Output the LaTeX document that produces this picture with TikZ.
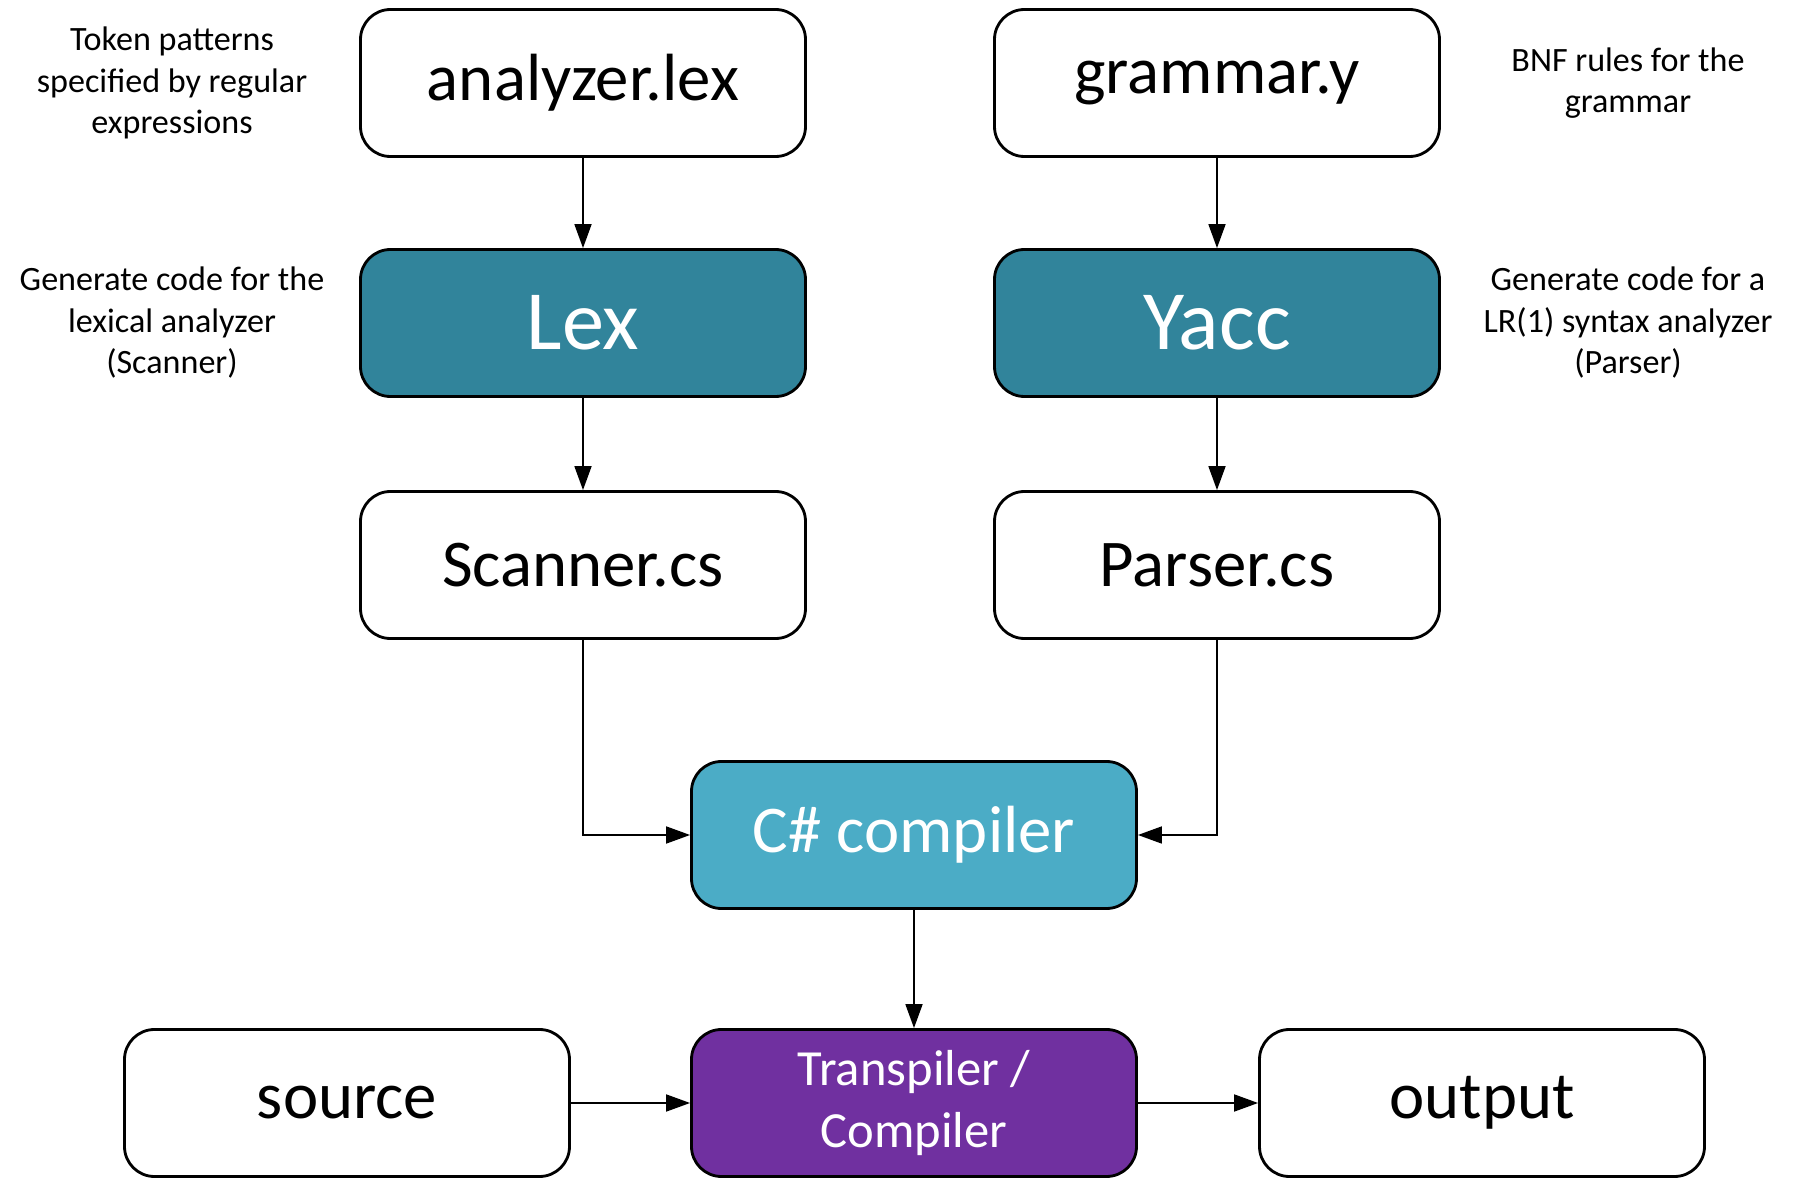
\documentclass[tikz,border=0pt]{standalone}
\usepackage{fontspec}
\setmainfont{Carlito}
\usepackage{xcolor}
\usepackage{tikz}
\usetikzlibrary{arrows.meta, positioning}

\begin{document}
\begin{tikzpicture}[>={Triangle[length=2.4mm, width=1.7mm]}, x=1cm, y=1cm,
    box/.style={draw, line width=0.8pt, rounded corners=3mm, minimum width=4.45cm, minimum height=1.47cm, align=center, font=\fontsize{19}{23}\selectfont},
    note/.style={align=center, font=\fontsize{9.7}{11.8}\selectfont},
    link/.style={->, line width=0.5pt}]
      \colorlet{toolbg}{rgb,255:red,49;green,132;blue,155}
      \colorlet{cscbg}{rgb,255:red,75;green,172;blue,198}
      \colorlet{transbg}{rgb,255:red,112;green,48;blue,160}
      \useasboundingbox (0, 0) rectangle (18, 12);
      % input files
      \node[box] (lexfile) at (5.83, 11.17) {analyzer.lex};
      \node[box] (yfile) at (12.17, 11.17) {grammar.y};
      % generators
      \node[box, fill=toolbg, text=white, font=\fontsize{24}{28}\selectfont] (lex) at (5.83, 8.77) {Lex};
      \node[box, fill=toolbg, text=white, font=\fontsize{24}{28}\selectfont] (yacc) at (12.17, 8.77) {Yacc};
      % generated code
      \node[box] (scanner) at (5.83, 6.35) {Scanner.cs};
      \node[box] (parser) at (12.17, 6.35) {Parser.cs};
      \node[box, fill=cscbg, text=white] (csc) at (9.14, 3.65) {C\# compiler};
      % bottom row
      \node[box, fill=transbg, text=white, font=\fontsize{14.4}{17.5}\selectfont] (trans) at (9.14, 0.97) {Transpiler /\\Compiler};
      \node[box] (source) at (3.47, 0.97) {source};
      \node[box] (output) at (14.82, 0.97) {output};
      % notes
      \node[note] (lexnote) at (1.72, 11.17) {Token patterns\\specified by regular\\expressions};
      \node[note] (ynote) at (16.28, 11.17) {BNF rules for the\\grammar};
      \node[note] (lexgen) at (1.72, 8.77) {Generate code for the\\lexical analyzer\\(Scanner)};
      \node[note] (yaccgen) at (16.28, 8.77) {Generate code for a\\LR(1) syntax analyzer\\(Parser)};
      % connectors
      \draw[link] (lexfile) -- (lex);
      \draw[link] (yfile) -- (yacc);
      \draw[link] (lex) -- (scanner);
      \draw[link] (yacc) -- (parser);
      \draw[link] (scanner.south) |- (csc.west);
      \draw[link] (parser.south) |- (csc.east);
      \draw[link] (csc) -- (trans);
      \draw[link] (source) -- (trans);
      \draw[link] (trans) -- (output);
    \end{tikzpicture}
\end{document}
